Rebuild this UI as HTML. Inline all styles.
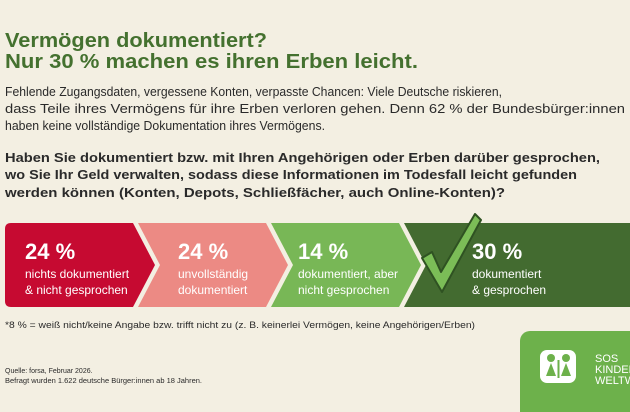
<!DOCTYPE html>
<html><head><meta charset="utf-8"><style>
html,body{margin:0;padding:0;background:#f3efe2;}
svg{display:block;font-family:"Liberation Sans",sans-serif;}
</style></head><body>
<svg id="chart" width="630" height="412" viewBox="0 0 630 412" xmlns="http://www.w3.org/2000/svg">
<rect width="630" height="412" fill="#f3efe2"/>
<g fill="#44712f" font-weight="bold" font-size="20">
<text x="5" y="47" textLength="262" lengthAdjust="spacingAndGlyphs">Vermögen dokumentiert?</text>
<text x="5" y="68" textLength="413" lengthAdjust="spacingAndGlyphs">Nur 30 % machen es ihren Erben leicht.</text>
</g>
<g fill="#2a2a2a" font-size="13">
<text x="5" y="96" textLength="497" lengthAdjust="spacingAndGlyphs">Fehlende Zugangsdaten, vergessene Konten, verpasste Chancen: Viele Deutsche riskieren,</text>
<text x="5" y="113" textLength="620" lengthAdjust="spacingAndGlyphs">dass Teile ihres Vermögens für ihre Erben verloren gehen. Denn 62 % der Bundesbürger:innen</text>
<text x="5" y="130" textLength="320" lengthAdjust="spacingAndGlyphs">haben keine vollständige Dokumentation ihres Vermögens.</text>
</g>
<g fill="#2a2a2a" font-size="13" font-weight="bold">
<text x="5" y="162" textLength="595" lengthAdjust="spacingAndGlyphs">Haben Sie dokumentiert bzw. mit Ihren Angehörigen oder Erben darüber gesprochen,</text>
<text x="5" y="179" textLength="572" lengthAdjust="spacingAndGlyphs">wo Sie Ihr Geld verwalten, sodass diese Informationen im Todesfall leicht gefunden</text>
<text x="5" y="197" textLength="500" lengthAdjust="spacingAndGlyphs">werden können (Konten, Depots, Schließfächer, auch Online-Konten)?</text>
</g>
<g id="segments"></g>
<g>
<path d="M422,258 L432,252 L441,272 L475,214 L481,220 L442,292 Z" fill="#7bbd57" stroke="#2f5222" stroke-width="2" stroke-linejoin="round"/>
</g>
<text x="5" y="328" font-size="9" fill="#2a2a2a" textLength="470" lengthAdjust="spacingAndGlyphs">*8 % = weiß nicht/keine Angabe bzw. trifft nicht zu (z. B. keinerlei Vermögen, keine Angehörigen/Erben)</text>
<g font-size="7" fill="#2a2a2a">
<text x="5" y="373">Quelle: forsa, Februar 2026.</text>
<text x="5" y="383" textLength="197" lengthAdjust="spacingAndGlyphs">Befragt wurden 1.622 deutsche Bürger:innen ab 18 Jahren.</text>
</g>
<g>
<path d="M530,331 H630 V412 H520 V341 A10,10 0 0 1 530,331 Z" fill="#6db14b"/>
<rect x="540" y="350" width="36" height="33" rx="7" fill="#fff"/>
<circle cx="551" cy="358" r="4" fill="#6db14b"/><circle cx="566" cy="358" r="4" fill="#6db14b"/>
<path d="M546,376 L551,363 L556,376 Z M561,376 L566,363 L571,376 Z" fill="#6db14b"/>
<rect x="557.5" y="360" width="2" height="18" fill="#6db14b"/>
<g fill="#fff" font-size="11">
<text x="595" y="362">SOS</text><text x="595" y="373">KINDERDORF</text><text x="595" y="384">WELTWEIT</text>
</g>
</g>
</svg>
<script>
const categories = ["nichts dokumentiert|& nicht gesprochen","unvollständig|dokumentiert","dokumentiert, aber|nicht gesprochen","dokumentiert|& gesprochen"];
const values = [24, 24, 14, 30];
const colors = ["#c60a31","#ec8a84","#78b756","#436b30"];
const segs = document.getElementById('segments');
const NS = "http://www.w3.org/2000/svg";
const yTop = 223, yBot = 307, yMid = 265, tip = 22, segW = 128, gap = 5;
const textX = [25, 178, 298, 472];
categories.forEach((c, i) => {
  const x0 = 5 + i * (segW + gap);
  const x1 = x0 + segW;
  let d;
  if (i === 0) d = `M${x0+6},${yTop} H${x1} L${x1+tip},${yMid} L${x1},${yBot} H${x0+6} Q${x0},${yBot} ${x0},${yBot-6} V${yTop+6} Q${x0},${yTop} ${x0+6},${yTop} Z`;
  else if (i === categories.length - 1) d = `M${x0},${yTop} H630 V${yBot} H${x0} L${x0+tip},${yMid} Z`;
  else d = `M${x0},${yTop} H${x1} L${x1+tip},${yMid} L${x1},${yBot} H${x0} L${x0+tip},${yMid} Z`;
  const p = document.createElementNS(NS, 'path');
  
  
  p.setAttribute('d', d); p.setAttribute('fill', colors[i]);
  segs.appendChild(p);
  const t = document.createElementNS(NS, 'text');
  
  
  t.setAttribute('x', textX[i]); t.setAttribute('y', 259);
  t.setAttribute('font-size', '22'); t.setAttribute('font-weight', 'bold'); t.setAttribute('fill', '#fff');
  t.textContent = values[i] + ' %';
  segs.appendChild(t);
  c.split('|').forEach((line, j) => {
    const l = document.createElementNS(NS, 'text');
    
    
    l.setAttribute('x', textX[i]); l.setAttribute('y', 278 + j * 16);
    l.setAttribute('font-size', '12'); l.setAttribute('fill', '#fff');
    l.textContent = line;
    segs.appendChild(l);
  });
});
</script>
</body></html>
